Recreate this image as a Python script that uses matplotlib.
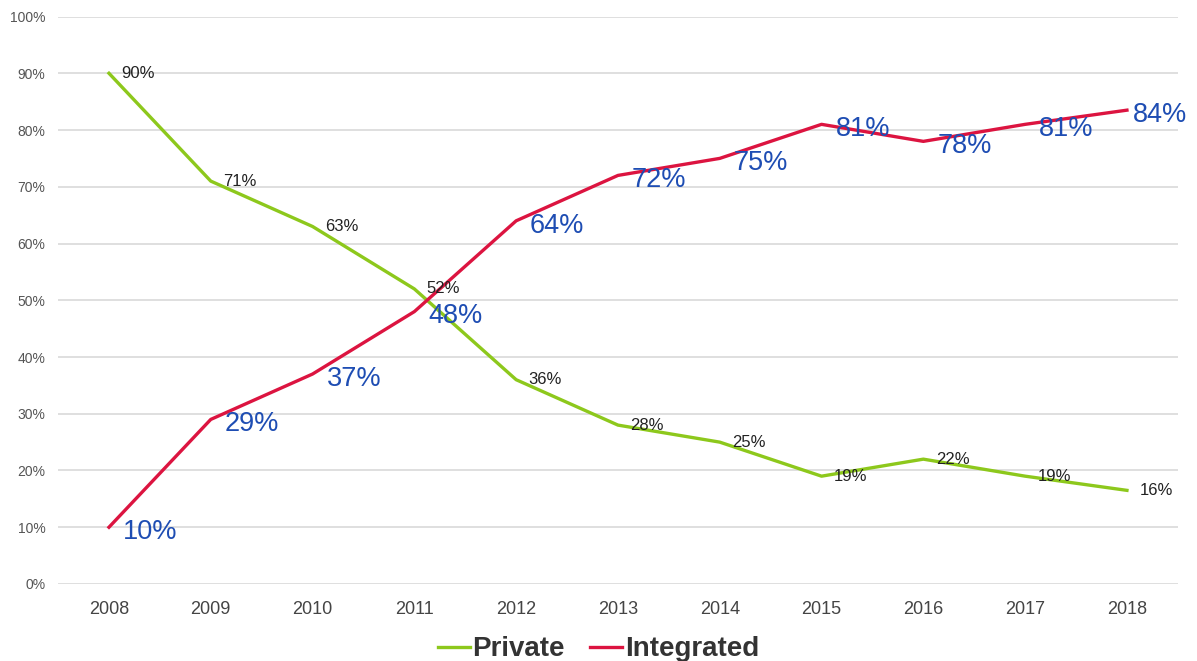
import matplotlib.pyplot as plt

plt.rcParams['font.family'] = ['Liberation Sans', 'DejaVu Sans']

years = ["2008", "2009", "2010", "2011", "2012", "2013",
         "2014", "2015", "2016", "2017", "2018"]
private = [90, 71, 63, 52, 36, 28, 25, 19, 22, 19, 16.5]
integrated = [10, 29, 37, 48, 64, 72, 75, 81, 78, 81, 83.5]
private_labels = ["90%", "71%", "63%", "52%", "36%", "28%",
                  "25%", "19%", "22%", "19%", "16%"]
integrated_labels = ["10%", "29%", "37%", "48%", "64%", "72%",
                     "75%", "81%", "78%", "81%", "84%"]

green = '#8dc81c'
red = '#dc1440'
blue = '#1e4db3'

fig = plt.figure(figsize=(11.97, 6.61), dpi=100)
ax = fig.add_axes([0.0485, 0.1165, 0.9355, 0.8585])

x = range(len(years))
ax.plot(x, private, color=green, lw=2.4, label='Private', zorder=3)
ax.plot(x, integrated, color=red, lw=2.4, label='Integrated', zorder=3)

for i, (v, t) in enumerate(zip(private, private_labels)):
    ax.annotate(t, (i, v), xytext=(9, 0), textcoords='offset points',
                ha='left', va='center', fontsize=12, color='#222222', zorder=5)

for i, (v, t) in enumerate(zip(integrated, integrated_labels)):
    dx = 4 if i == len(years) - 1 else 10
    ax.annotate(t, (i, v), xytext=(dx, -3.5), textcoords='offset points',
                ha='left', va='center', fontsize=19.5, color=blue, zorder=5)

ax.set_xlim(-0.5, len(years) - 0.5)
ax.set_ylim(0, 100)
ax.set_xticks(list(x))
ax.set_xticklabels(years, fontsize=13, color='#444444')
ax.set_yticks(range(0, 101, 10))
ax.set_yticklabels([f"{v}%" for v in range(0, 101, 10)], fontsize=10, color='#555555')
ax.tick_params(axis='both', length=0)
ax.tick_params(axis='y', pad=9)
ax.tick_params(axis='x', pad=12)
ax.grid(axis='y', color='#d9d9d9', lw=1.2)
ax.set_axisbelow(True)
for s in ax.spines.values():
    s.set_visible(False)

leg = fig.legend(loc='lower center', bbox_to_anchor=(0.5, -0.04), ncol=2, frameon=False,
                 prop={'size': 20, 'weight': 'bold'}, handlelength=1.15,
                 handletextpad=0.1, columnspacing=0.9)
for t in leg.get_texts():
    t.set_color('#333333')

plt.savefig('out.png', dpi=100)
